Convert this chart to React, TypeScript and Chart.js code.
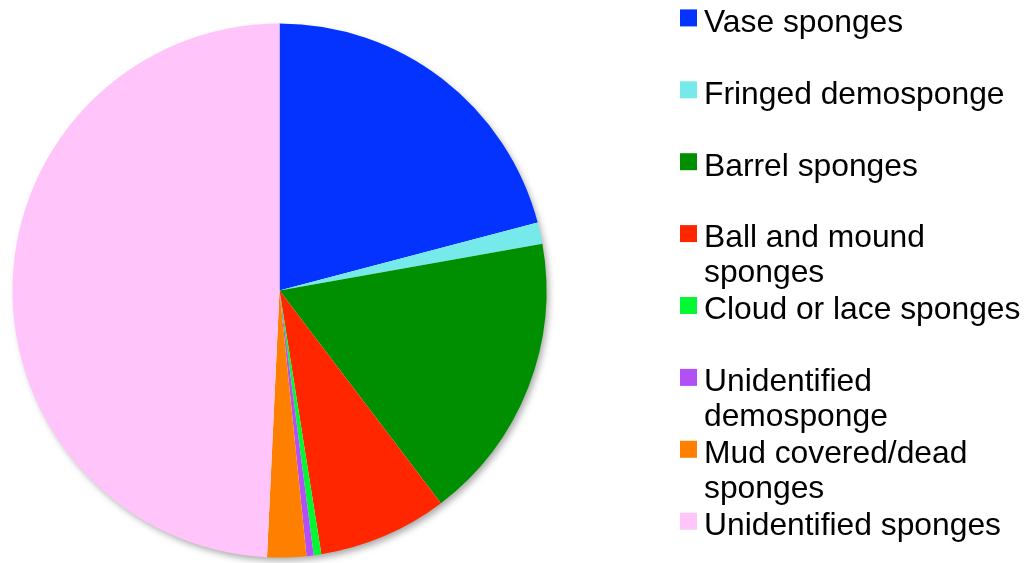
import React, { useEffect, useRef } from "react";
import { Chart, registerables } from "chart.js";

Chart.register(...registerables);

const categories = [
  "Vase sponges",
  "Fringed demosponge",
  "Barrel sponges",
  "Ball and mound sponges",
  "Cloud or lace sponges",
  "Unidentified demosponge",
  "Mud covered/dead sponges",
  "Unidentified sponges",
];

const shares = [20.91, 1.29, 17.47, 7.83, 0.46, 0.43, 2.36, 49.26];

const colors = [
  "#0433FF",
  "#76EAEA",
  "#008F00",
  "#FF2600",
  "#00F932",
  "#B150F5",
  "#FF7F00",
  "#FFC5FB",
];

const FONT = "31.8px 'Liberation Sans', Arial, sans-serif";

function wrap(ctx: CanvasRenderingContext2D, text: string, maxW: number): string[] {
  const words = text.split(" ");
  const lines: string[] = [];
  let cur = "";
  for (const w of words) {
    const t = cur ? cur + " " + w : w;
    if (cur && ctx.measureText(t).width > maxW) {
      lines.push(cur);
      cur = w;
    } else cur = t;
  }
  if (cur) lines.push(cur);
  return lines;
}

const shadowPlugin = {
  id: "pieShadow",
  beforeDatasetsDraw(chart: any) {
    const meta = chart.getDatasetMeta(0);
    const arc = meta.data[0];
    if (!arc) return;
    const { x, y, outerRadius } = arc;
    const ctx = chart.ctx;
    ctx.save();
    ctx.shadowColor = "rgba(0,0,0,0.35)";
    ctx.shadowBlur = 7;
    ctx.shadowOffsetX = 3;
    ctx.shadowOffsetY = 4;
    ctx.fillStyle = "#ffffff";
    ctx.beginPath();
    ctx.arc(x, y, outerRadius - 1, 0, Math.PI * 2);
    ctx.fill();
    ctx.restore();
  },
};

const legendPlugin = {
  id: "sideLegend",
  afterDraw(chart: any) {
    const ctx = chart.ctx;
    ctx.save();
    ctx.font = FONT;
    ctx.textBaseline = "alphabetic";
    ctx.fillStyle = "#000";
    const boxX = 680;
    const textX = 704;
    const firstBase = 31.7;
    const step = 71.9;
    const lineH = 35;
    categories.forEach((label, i) => {
      const base = firstBase + step * i;
      ctx.fillStyle = colors[i];
      ctx.fillRect(boxX, base - 22.3, 17, 17);
      ctx.fillStyle = "#000";
      const lines = wrap(ctx, label, 322);
      lines.forEach((ln, j) => ctx.fillText(ln, textX, base + j * lineH));
    });
    ctx.restore();
  },
};

export default function App() {
  const ref = useRef<HTMLCanvasElement>(null);
  useEffect(() => {
    document.body.style.margin = "0";
    const chart = new Chart(ref.current!, {
      type: "pie",
      data: {
        labels: categories,
        datasets: [
          {
            data: shares,
            backgroundColor: colors,
            borderWidth: 0,
          },
        ],
      },
      options: {
        responsive: false,
        animation: false,
        layout: { padding: { left: 12.5, right: 481.5, top: 23.5, bottom: 5.5 } },
        plugins: {
          legend: { display: false },
          tooltip: { enabled: false },
        },
      },
      plugins: [shadowPlugin, legendPlugin],
    });
    return () => chart.destroy();
  }, []);
  return <canvas ref={ref} width={1028} height={563} style={{ display: "block" }} />;
}
